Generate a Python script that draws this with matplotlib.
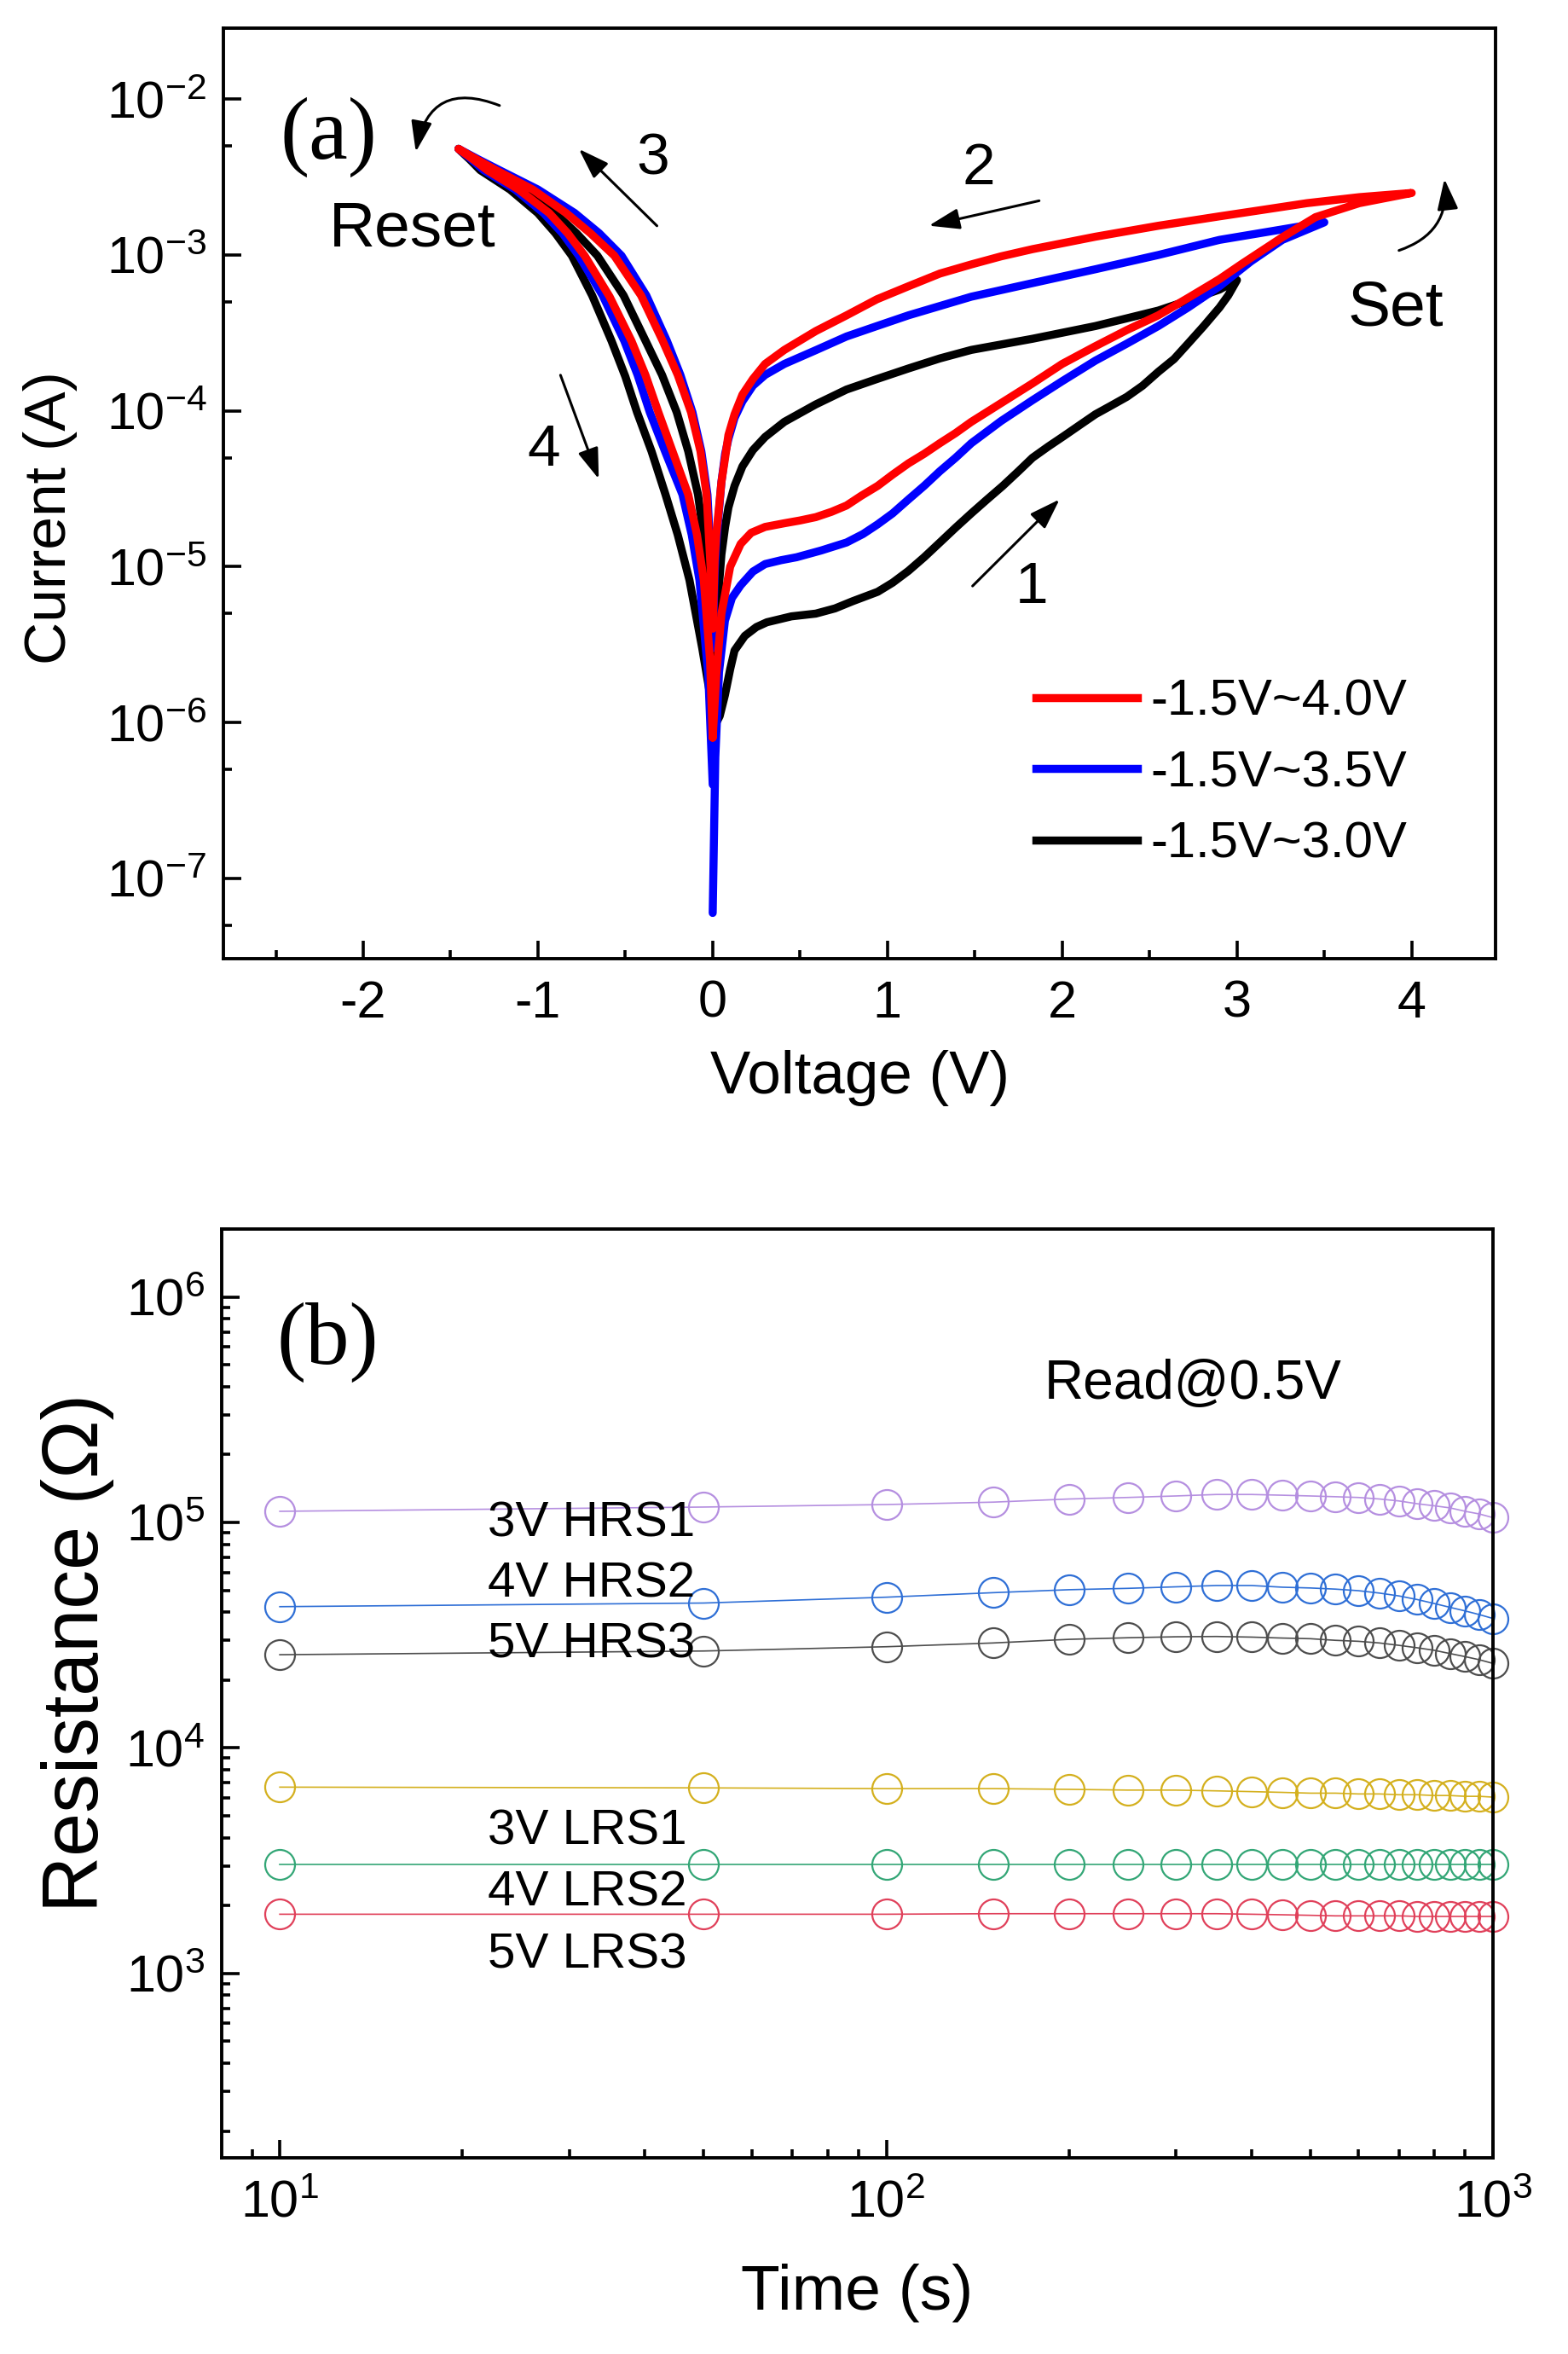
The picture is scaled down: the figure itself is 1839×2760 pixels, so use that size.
import matplotlib
matplotlib.use('Agg')
import matplotlib.pyplot as plt
from matplotlib.ticker import LogLocator, MultipleLocator, NullFormatter
from matplotlib.lines import Line2D

plt.rcParams['font.family'] = ['Liberation Sans', 'DejaVu Sans']
plt.rcParams['mathtext.fontset'] = 'custom'
plt.rcParams['mathtext.rm'] = 'Liberation Sans'
plt.rcParams['mathtext.it'] = 'Liberation Sans:italic'
plt.rcParams['mathtext.bf'] = 'Liberation Sans:bold'
plt.rcParams['axes.unicode_minus'] = False

# ---- (a) I-V sweeps: 0 -> Vmax -> 0 -> -1.45 -> 0 ----
v_40 = [0.0, 0.02, 0.05, 0.1, 0.16, 0.22, 0.3, 0.41, 0.5, 0.59, 0.68, 0.766, 0.85, 0.944, 1.03, 1.12, 1.21, 1.30, 1.39, 1.48,
        1.65, 1.83, 2.0, 2.19, 2.37, 2.55, 2.72, 2.90, 3.03, 3.26, 3.45, 3.70, 4.0,
        3.70, 3.40, 3.15, 2.90, 2.55, 2.19, 1.83, 1.65, 1.48, 1.30, 1.12, 0.94, 0.766, 0.59, 0.41, 0.30, 0.23, 0.17, 0.125,
        0.09, 0.071, 0.05, 0.036, 0.02, 0.011, 0.0,
        -0.008, -0.035, -0.07, -0.124, -0.2, -0.286, -0.41, -0.563, -0.70, -0.839, -1.03, -1.24, -1.35, -1.455,
        -1.37, -1.29, -1.11, -0.936, -0.83, -0.733, -0.59, -0.465, -0.385, -0.311, -0.23, -0.140, -0.09, -0.051, -0.015, 0.0]
i_40 = [8e-7, 2.0e-6, 5.0e-6, 1.0e-5, 1.4e-5, 1.65e-5, 1.8e-5, 1.9e-5, 1.98e-5, 2.08e-5, 2.25e-5, 2.47e-5, 2.85e-5, 3.3e-5,
        3.9e-5, 4.6e-5, 5.3e-5, 6.2e-5, 7.2e-5, 8.5e-5,
        1.12e-4, 1.5e-4, 2.0e-4, 2.6e-4, 3.3e-4, 4.1e-4, 5.3e-4, 7e-4, 8.8e-4, 1.3e-3, 1.75e-3, 2.15e-3, 2.5e-3,
        2.35e-3, 2.15e-3, 1.95e-3, 1.77e-3, 1.54e-3, 1.31e-3, 1.09e-3, 9.8e-4, 8.7e-4, 7.6e-4, 6.3e-4, 5.2e-4, 4.1e-4,
        3.25e-4, 2.46e-4, 2.0e-4, 1.6e-4, 1.27e-4, 9.5e-5,
        7.0e-5, 5.0e-5, 3.5e-5, 2.4e-5, 1.6e-5, 1.1e-5, 4e-6,
        8.2e-6, 2.9e-5, 5.5e-5, 9.8e-5, 1.7e-4, 2.81e-4, 5.5e-4, 9.9e-4, 1.38e-3, 1.86e-3, 2.63e-3, 3.5e-3, 4.1e-3, 4.8e-3,
        4.1e-3, 3.5e-3, 2.63e-3, 1.86e-3, 1.38e-3, 9.9e-4, 5.4e-4, 2.81e-4, 1.7e-4, 9.8e-5, 5.5e-5, 2.9e-5, 1.6e-5,
        8.2e-6, 2.5e-6, 8e-7]

v_35 = [0.0, 0.015, 0.036, 0.07, 0.11, 0.16, 0.23, 0.30, 0.39, 0.48, 0.62, 0.766, 0.86, 0.944, 1.03, 1.12, 1.21, 1.30, 1.39,
        1.48, 1.65, 1.83, 2.0, 2.19, 2.37, 2.55, 2.72, 2.90, 3.08, 3.26, 3.5,
        3.26, 2.90, 2.55, 2.19, 1.83, 1.48, 1.12, 0.94, 0.766, 0.59, 0.41, 0.30, 0.23, 0.17, 0.125, 0.09, 0.071, 0.05,
        0.036, 0.02, 0.011, 0.0,
        -0.005, -0.030, -0.065, -0.116, -0.185, -0.262, -0.38, -0.522, -0.65, -0.790, -1.0, -1.22, -1.34, -1.455,
        -1.38, -1.31, -1.13, -0.968, -0.86, -0.766, -0.63, -0.506, -0.43, -0.360, -0.27, -0.173, -0.12, -0.076, -0.025, 0.0]
i_35 = [6e-8, 6e-7, 2.1e-6, 4.5e-6, 6.3e-6, 7.6e-6, 9.3e-6, 1.04e-5, 1.1e-5, 1.15e-5, 1.27e-5, 1.43e-5, 1.62e-5, 1.87e-5,
        2.2e-5, 2.7e-5, 3.3e-5, 4.1e-5, 5.0e-5,
        6.2e-5, 8.6e-5, 1.17e-4, 1.55e-4, 2.1e-4, 2.7e-4, 3.5e-4, 4.6e-4, 6.3e-4, 9.1e-4, 1.25e-3, 1.62e-3,
        1.46e-3, 1.25e-3, 1.0e-3, 8.1e-4, 6.6e-4, 5.4e-4, 4.1e-4, 3.5e-4, 3.0e-4, 2.45e-4, 2.0e-4, 1.7e-4, 1.45e-4,
        1.15e-4, 9.0e-5, 6.6e-5, 5.3e-5, 3.5e-5,
        2.3e-5, 1.4e-5, 9e-6, 3e-6,
        8.2e-6, 2.9e-5, 5.5e-5, 9.8e-5, 1.7e-4, 2.81e-4, 5.5e-4, 9.9e-4, 1.38e-3, 1.86e-3, 2.63e-3, 3.5e-3, 4.1e-3, 4.8e-3,
        4.1e-3, 3.5e-3, 2.63e-3, 1.86e-3, 1.38e-3, 9.9e-4, 5.5e-4, 2.81e-4, 1.7e-4, 9.8e-5, 5.4e-5, 2.9e-5, 1.6e-5,
        8.2e-6, 2e-6, 4e-7]

v_30 = [0.0, 0.04, 0.07, 0.1, 0.125, 0.184, 0.25, 0.31, 0.45, 0.59, 0.70, 0.80, 0.944, 1.03, 1.12, 1.21, 1.30, 1.39, 1.48,
        1.57, 1.66, 1.75, 1.83, 1.92, 2.01, 2.10, 2.19, 2.28, 2.37, 2.46, 2.55, 2.64, 2.72, 2.81, 2.90, 2.95, 3.0,
        2.90, 2.72, 2.55, 2.19, 1.83, 1.48, 1.30, 1.12, 0.94, 0.766, 0.59, 0.41, 0.30, 0.23, 0.17, 0.125, 0.09, 0.071,
        0.05, 0.036, 0.02, 0.011, 0.0,
        -0.019, -0.084, -0.14, -0.206, -0.29, -0.384, -0.51, -0.660, -0.78, -0.903, -1.08, -1.27, -1.36, -1.455,
        -1.39, -1.33, -1.16, -1.001, -0.9, -0.806, -0.69, -0.579, -0.5, -0.433, -0.35, -0.270, -0.2, -0.133, -0.06, 0.0]
i_30 = [9e-7, 1.1e-6, 1.5e-6, 2.2e-6, 2.9e-6, 3.6e-6, 4.1e-6, 4.4e-6, 4.8e-6, 5.0e-6, 5.4e-6, 6.0e-6, 6.9e-6, 7.9e-6,
        9.4e-6, 1.15e-5, 1.43e-5, 1.78e-5, 2.2e-5,
        2.7e-5, 3.3e-5, 4.1e-5, 5.0e-5, 5.9e-5, 6.9e-5, 8.1e-5, 9.5e-5, 1.08e-4, 1.23e-4, 1.45e-4, 1.78e-4, 2.15e-4,
        2.7e-4, 3.5e-4, 4.6e-4, 5.5e-4, 6.9e-4,
        6.0e-4, 5.1e-4, 4.4e-4, 3.5e-4, 2.9e-4, 2.46e-4, 2.17e-4, 1.87e-4, 1.6e-4, 1.37e-4, 1.1e-4, 8.5e-5, 6.8e-5,
        5.6e-5, 4.4e-5, 3.3e-5, 2.4e-5, 1.8e-5,
        1.2e-5, 7.6e-6, 5e-6, 3.6e-6, 2e-6,
        8.2e-6, 2.9e-5, 5.5e-5, 9.8e-5, 1.7e-4, 2.81e-4, 5.5e-4, 9.9e-4, 1.38e-3, 1.86e-3, 2.63e-3, 3.5e-3, 4.1e-3, 4.8e-3,
        4.1e-3, 3.5e-3, 2.63e-3, 1.86e-3, 1.38e-3, 9.9e-4, 5.5e-4, 2.81e-4, 1.66e-4, 9.8e-5, 5.5e-5, 2.9e-5, 1.6e-5,
        8.2e-6, 3e-6, 1.2e-6]

sweep_labels = ['-1.5V~4.0V', '-1.5V~3.5V', '-1.5V~3.0V']

# ---- (b) retention ----
time_s = [10, 50, 100, 150, 200, 250, 300, 350, 400, 450, 500, 550, 600, 650, 700, 750, 800, 850, 900, 950, 1000]
hrs1 = [1.12e5, 1.17e5, 1.20e5, 1.23e5, 1.27e5, 1.29e5, 1.31e5, 1.33e5, 1.33e5, 1.32e5, 1.31e5, 1.30e5, 1.29e5, 1.27e5,
        1.245e5, 1.21e5, 1.185e5, 1.16e5, 1.12e5, 1.09e5, 1.05e5]
hrs2 = [4.23e4, 4.39e4, 4.66e4, 4.88e4, 5.03e4, 5.1e4, 5.18e4, 5.25e4, 5.25e4, 5.16e4, 5.12e4, 5.06e4, 4.98e4, 4.86e4,
        4.72e4, 4.55e4, 4.37e4, 4.2e4, 4.05e4, 3.9e4, 3.75e4]
hrs3 = [2.59e4, 2.69e4, 2.81e4, 2.92e4, 3.03e4, 3.08e4, 3.11e4, 3.12e4, 3.1e4, 3.07e4, 3.05e4, 3.0e4, 2.97e4, 2.92e4,
        2.85e4, 2.78e4, 2.71e4, 2.62e4, 2.54e4, 2.46e4, 2.37e4]
lrs1 = [6.7e3, 6.65e3, 6.6e3, 6.6e3, 6.55e3, 6.5e3, 6.5e3, 6.45e3, 6.4e3, 6.35e3, 6.3e3, 6.3e3, 6.25e3, 6.25e3,
        6.2e3, 6.2e3, 6.15e3, 6.15e3, 6.1e3, 6.1e3, 6.05e3]
lrs2 = [3.05e3, 3.05e3, 3.05e3, 3.05e3, 3.05e3, 3.05e3, 3.05e3, 3.05e3, 3.05e3, 3.05e3, 3.05e3, 3.05e3, 3.05e3, 3.05e3,
        3.05e3, 3.05e3, 3.05e3, 3.05e3, 3.05e3, 3.05e3, 3.05e3]
lrs3 = [1.83e3, 1.83e3, 1.83e3, 1.84e3, 1.84e3, 1.84e3, 1.84e3, 1.84e3, 1.83e3, 1.82e3, 1.81e3, 1.8e3, 1.8e3, 1.8e3,
        1.8e3, 1.79e3, 1.79e3, 1.79e3, 1.79e3, 1.79e3, 1.79e3]
state_labels = ['3V HRS1', '4V HRS2', '5V HRS3', '3V LRS1', '4V LRS2', '5V LRS3']
state_colors = ['#b58fe0', '#2f6fd6', '#4d4d4d', '#d4b01e', '#33a676', '#e0405a']

fig = plt.figure(figsize=(9.2, 13.8), dpi=200)
ax1 = fig.add_axes([0.1424, 0.5928, 0.8109, 0.3952])
ax2 = fig.add_axes([0.1413, 0.0833, 0.8103, 0.3946])

# ---------- panel (a) ----------
lw_a = 3.4
ax1.plot(v_30, i_30, color='black', lw=lw_a, solid_joinstyle='round', solid_capstyle='round')
ax1.plot(v_35, i_35, color='#0000ff', lw=lw_a, solid_joinstyle='round', solid_capstyle='round')
ax1.plot(v_40, i_40, color='#ff0000', lw=lw_a, solid_joinstyle='round', solid_capstyle='round')
ax1.set_yscale('log')
ax1.set_xlim(-2.80, 4.48)
ax1.set_ylim(3.06e-8, 2.85e-2)
ax1.xaxis.set_major_locator(MultipleLocator(1))
ax1.xaxis.set_minor_locator(MultipleLocator(0.5))
ax1.yaxis.set_major_locator(LogLocator(base=10, numticks=20))
ax1.yaxis.set_minor_locator(LogLocator(base=10, subs=[5], numticks=20))
ax1.yaxis.set_minor_formatter(NullFormatter())
ax1.set_xlabel('Voltage (V)', fontsize=25.5, labelpad=9)
ax1.set_ylabel('Current (A)', fontsize=25, labelpad=12)
ax1.yaxis.label.set_y(0.474)

handles = [Line2D([], [], color='#ff0000', lw=lw_a),
           Line2D([], [], color='#0000ff', lw=lw_a),
           Line2D([], [], color='black', lw=lw_a)]
ax1.legend(handles, sweep_labels, loc='upper left', bbox_to_anchor=(0.6387, 0.301), frameon=False,
           fontsize=21.5, handlelength=2.0, handletextpad=0.25, labelspacing=0.48, borderpad=0, borderaxespad=0)

ax1.text(-2.197, 10**-2.243, '(a)', family=['Liberation Serif', 'DejaVu Serif'], fontsize=37, ha='center', va='center')
ax1.text(-1.72, 10**-2.836, 'Reset', fontsize=27, ha='center', va='center')
ax1.text(3.909, 10**-3.346, 'Set', fontsize=27, ha='center', va='center')
ax1.text(-0.343, 10**-2.384, '3', fontsize=25, ha='center', va='center')
ax1.text(-0.968, 10**-4.254, '4', fontsize=25, ha='center', va='center')
ax1.text(1.522, 10**-2.446, '2', fontsize=25, ha='center', va='center')
ax1.text(1.825, 10**-5.137, '1', fontsize=25, ha='center', va='center')

arrow = dict(arrowstyle='-|>,head_length=0.5,head_width=0.17', color='black', lw=1.1,
             shrinkA=0, shrinkB=0, mutation_scale=22)
ax1.annotate('', xy=(-0.766, 10**-2.320), xytext=(-0.319, 10**-2.813), arrowprops=arrow)
ax1.annotate('', xy=(-0.652, 10**-4.437), xytext=(-0.871, 10**-3.771), arrowprops=arrow)
ax1.annotate('', xy=(1.237, 10**-2.812), xytext=(1.868, 10**-2.652), arrowprops=arrow)
ax1.annotate('', xy=(1.985, 10**-4.568), xytext=(1.487, 10**-5.124), arrowprops=arrow)
ax1.annotate('', xy=(-1.699, 10**-2.338), xytext=(-1.220, 10**-2.041),
             arrowprops=dict(arrow, connectionstyle='arc3,rad=0.6'))
ax1.annotate('', xy=(4.187, 10**-2.512), xytext=(3.927, 10**-2.971),
             arrowprops=dict(arrow, connectionstyle='arc3,rad=0.4'))

# ---------- panel (b) ----------
series = [hrs1, hrs2, hrs3, lrs1, lrs2, lrs3]
for vals, col in zip(series, state_colors):
    ax2.plot(time_s, vals, color=col, lw=0.6, marker='o', ms=12.6, mfc='none', mec=col, mew=0.8, clip_on=False)
ax2.set_xscale('log')
ax2.set_yscale('log')
ax2.set_xlim(8.02, 1000)
ax2.set_ylim(152, 2.0e6)
ax2.xaxis.set_major_locator(LogLocator(base=10, numticks=20))
ax2.xaxis.set_minor_locator(LogLocator(base=10, subs=range(2, 10), numticks=20))
ax2.xaxis.set_minor_formatter(NullFormatter())
ax2.yaxis.set_major_locator(LogLocator(base=10, numticks=20))
ax2.yaxis.set_minor_locator(LogLocator(base=10, subs=range(2, 10), numticks=20))
ax2.yaxis.set_minor_formatter(NullFormatter())
ax2.set_xlabel('Time (s)', fontsize=27, labelpad=15)
ax2.set_ylabel('Resistance (\u03a9)', fontsize=33, labelpad=5)
ax2.yaxis.label.set_y(0.544)

label_y = [9.9e4, 5.3e4, 2.86e4, 4.25e3, 2.27e3, 1.2e3]
for txt, yv in zip(state_labels, label_y):
    ax2.text(22.0, yv, txt, fontsize=21, ha='left', va='center')
ax2.text(182, 4.1e5, 'Read@0.5V', fontsize=23, ha='left', va='center')
ax2.text(12.0, 6.3e5, '(b)', family=['Liberation Serif', 'DejaVu Serif'], fontsize=37, ha='center', va='center')

for ax in (ax1, ax2):
    for sp in ax.spines.values():
        sp.set_linewidth(1.4)
    ax.tick_params(which='both', direction='in', top=False, right=False, width=1.3, labelsize=22)
    ax.tick_params(which='major', length=7.6)
    ax.tick_params(which='minor', length=3.6)
    ax.tick_params(axis='x', pad=9)
    ax.tick_params(axis='y', pad=7)

fig.savefig('out.png', dpi=200)
